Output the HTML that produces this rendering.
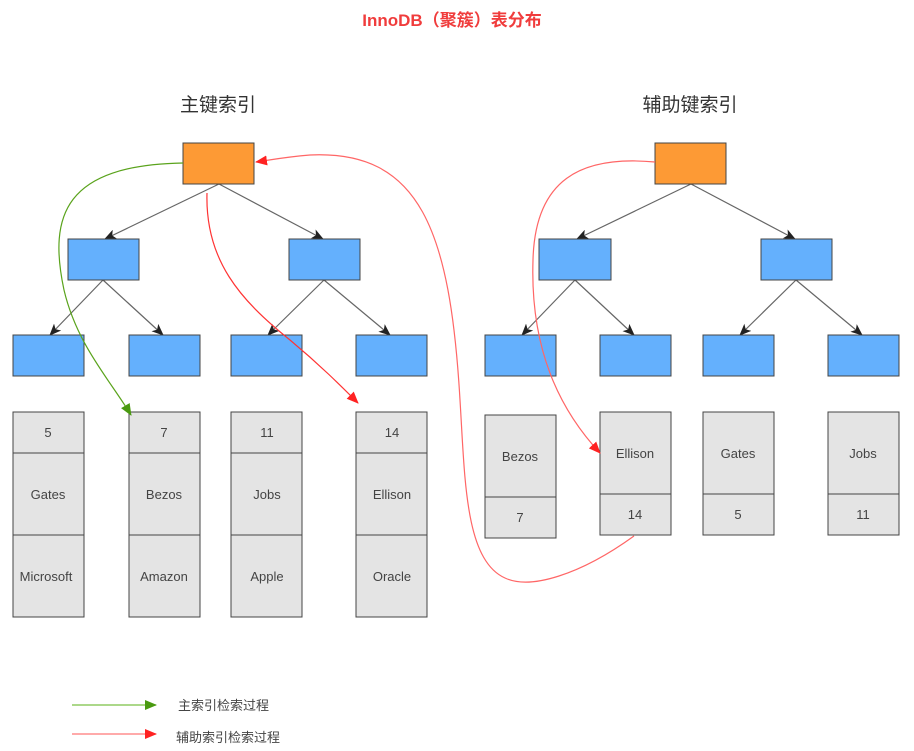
<!DOCTYPE html>
<html><head><meta charset="utf-8"><style>
body{margin:0;background:#fff;}
svg{display:block;font-family:"Liberation Sans","Noto Sans CJK SC",sans-serif;}
</style></head><body>
<svg width="914" height="751" viewBox="0 0 914 751" xmlns="http://www.w3.org/2000/svg">
<defs>
<marker id="ab" markerWidth="12" markerHeight="12" refX="11" refY="6" orient="auto" markerUnits="userSpaceOnUse"><path d="M0,1 L12,6 L0,11 L3,6 z" fill="#222"/></marker>
<marker id="ag" markerWidth="12" markerHeight="12" refX="11" refY="6" orient="auto" markerUnits="userSpaceOnUse"><path d="M0,1 L12,6 L0,11 z" fill="#4a9a10"/></marker>
<marker id="ar" markerWidth="12" markerHeight="12" refX="11" refY="6" orient="auto" markerUnits="userSpaceOnUse"><path d="M0,1 L12,6 L0,11 z" fill="#f22"/></marker>
</defs>
<text x="452" y="26" text-anchor="middle" font-size="17" font-weight="bold" fill="#f03c3c">InnoDB（聚簇）表分布</text>
<text x="218" y="111" text-anchor="middle" font-size="19" fill="#333">主键索引</text>
<text x="690" y="111" text-anchor="middle" font-size="19" fill="#333">辅助键索引</text>
<g stroke="#666" stroke-width="1.2" fill="none" marker-end="url(#ab)">
<line x1="219" y1="184" x2="105" y2="239"/><line x1="219" y1="184" x2="323" y2="239"/>
<line x1="103" y1="280" x2="50" y2="335"/><line x1="103" y1="280" x2="163" y2="335"/>
<line x1="324" y1="280" x2="268" y2="335"/><line x1="324" y1="280" x2="390" y2="335"/>
<line x1="691" y1="184" x2="577" y2="239"/><line x1="691" y1="184" x2="795" y2="239"/>
<line x1="575" y1="280" x2="522" y2="335"/><line x1="575" y1="280" x2="634" y2="335"/>
<line x1="796" y1="280" x2="740" y2="335"/><line x1="796" y1="280" x2="862" y2="335"/>
</g>
<g stroke="#444" stroke-width="1">
<rect x="183" y="143" width="71" height="41" fill="#fd9a35"/>
<rect x="655" y="143" width="71" height="41" fill="#fd9a35"/>
<g fill="#64b0fd">
<rect x="68" y="239" width="71" height="41"/><rect x="289" y="239" width="71" height="41"/>
<rect x="539" y="239" width="72" height="41"/><rect x="761" y="239" width="71" height="41"/>
<rect x="13" y="335" width="71" height="41"/><rect x="129" y="335" width="71" height="41"/>
<rect x="231" y="335" width="71" height="41"/><rect x="356" y="335" width="71" height="41"/>
<rect x="485" y="335" width="71" height="41"/><rect x="600" y="335" width="71" height="41"/>
<rect x="703" y="335" width="71" height="41"/><rect x="828" y="335" width="71" height="41"/>
</g>
<g fill="#e4e4e4">
<rect x="13" y="412" width="71" height="41"/><rect x="13" y="453" width="71" height="82"/><rect x="13" y="535" width="71" height="82"/>
<rect x="129" y="412" width="71" height="41"/><rect x="129" y="453" width="71" height="82"/><rect x="129" y="535" width="71" height="82"/>
<rect x="231" y="412" width="71" height="41"/><rect x="231" y="453" width="71" height="82"/><rect x="231" y="535" width="71" height="82"/>
<rect x="356" y="412" width="71" height="41"/><rect x="356" y="453" width="71" height="82"/><rect x="356" y="535" width="71" height="82"/>
<rect x="485" y="415" width="71" height="82"/><rect x="485" y="497" width="71" height="41"/>
<rect x="600" y="412" width="71" height="82"/><rect x="600" y="494" width="71" height="41"/>
<rect x="703" y="412" width="71" height="82"/><rect x="703" y="494" width="71" height="41"/>
<rect x="828" y="412" width="71" height="82"/><rect x="828" y="494" width="71" height="41"/>
</g>
</g>
<g font-size="13" fill="#444" text-anchor="middle">
<text x="48" y="437">5</text><text x="48" y="499">Gates</text><text x="46" y="581">Microsoft</text>
<text x="164" y="437">7</text><text x="164" y="499">Bezos</text><text x="164" y="581">Amazon</text>
<text x="267" y="437">11</text><text x="267" y="499">Jobs</text><text x="267" y="581">Apple</text>
<text x="392" y="437">14</text><text x="392" y="499">Ellison</text><text x="392" y="581">Oracle</text>
<text x="520" y="461">Bezos</text><text x="520" y="522">7</text>
<text x="635" y="458">Ellison</text><text x="635" y="519">14</text>
<text x="738" y="458">Gates</text><text x="738" y="519">5</text>
<text x="863" y="458">Jobs</text><text x="863" y="519">11</text>
</g>
<g fill="none" stroke-width="1.2">
<path d="M183,163 C65,165 48,215 64,290 C77,345 110,380 131,415" stroke="#5aa31c" marker-end="url(#ag)"/>
<path d="M207,193 C205,260 240,300 290,340 C320,365 340,385 358,403" stroke="#f33" marker-end="url(#ar)"/>
<path d="M634,536 C580,575 530,590 505,578 C465,560 465,480 460,400 C450,230 420,150 310,155 C285,157 270,160 256,162" stroke="#f66" marker-end="url(#ar)"/>
<path d="M655,162 C580,155 535,180 533,260 C530,350 560,410 600,453" stroke="#f66" marker-end="url(#ar)"/>
<line x1="72" y1="705" x2="156" y2="705" stroke="#7bc043" marker-end="url(#ag)"/>
<line x1="72" y1="734" x2="156" y2="734" stroke="#f77" marker-end="url(#ar)"/>
</g>
<text x="178" y="710" font-size="13" fill="#444">主索引检索过程</text>
<text x="176" y="742" font-size="13" fill="#444">辅助索引检索过程</text>
</svg>
</body></html>
